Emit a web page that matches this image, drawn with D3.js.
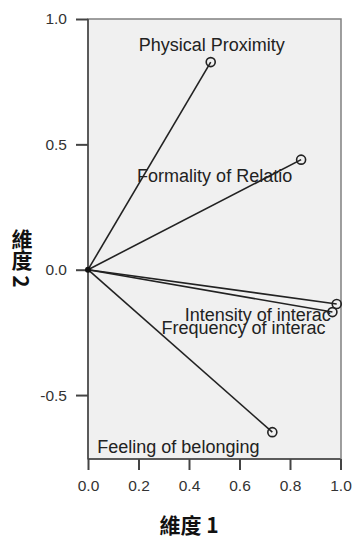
<!DOCTYPE html>
<html>
<head>
<meta charset="utf-8">
<script src="https://cdn.jsdelivr.net/npm/d3@7"></script>
<style>
  body { margin: 0; background: #fff; }
  svg { display: block; }
</style>
</head>
<body>
<div id="chart"></div>
<script>
// Component loadings (dimension 1, dimension 2)
var variables = ["Physical Proximity", "Formality of Relatio", "Intensity of interac", "Frequency of interac", "Feeling of belonging"];
var dim1 = [0.486, 0.844, 0.985, 0.968, 0.730];
var dim2 = [0.828, 0.439, -0.137, -0.169, -0.648];

// Tick labels
var xTicks = [0.0, 0.2, 0.4, 0.6, 0.8, 1.0];
var yTicks = [-0.5, 0.0, 0.5, 1.0];

// Where each label sits relative to its point (pixels, start of text / baseline)
var labelOffsets = [[-72, -11], [-164, 22], [-152, 17], [-171, 22], [-175, 21]];

var width = 352, height = 540;
var plot = { left: 88, right: 340.5, top: 19, bottom: 459 };

var svg = d3.select("#chart").append("svg")
  .attr("width", width)
  .attr("height", height);

var x = d3.scaleLinear().domain([0, 1]).range([plot.left, plot.right]);
var y = d3.scaleLinear().domain([-0.755, 1.0]).range([plot.bottom, plot.top]);

// Plot background
svg.append("rect")
  .attr("x", plot.left)
  .attr("y", plot.top)
  .attr("width", plot.right + 0.5 - plot.left)
  .attr("height", plot.bottom - plot.top)
  .attr("fill", "#f0f0f0")
  .attr("stroke", "#808080")
  .attr("stroke-width", 1.5);

// Axes (plain hyphen for negatives, like the original)
var tickFont = "'Liberation Sans', Arial, sans-serif";
var fmt = d => d.toFixed(1);

var xAxis = svg.append("g")
  .attr("transform", `translate(0, ${plot.bottom})`)
  .call(d3.axisBottom(x).tickValues(xTicks).tickFormat(fmt).tickSize(11).tickPadding(10));

var yAxis = svg.append("g")
  .attr("transform", `translate(${plot.left}, 0)`)
  .call(d3.axisLeft(y).tickValues(yTicks).tickFormat(fmt).tickSize(12).tickPadding(9));

[xAxis, yAxis].forEach(function (ax) {
  ax.select(".domain").attr("stroke", "#444").attr("stroke-width", 1.5);
  ax.selectAll(".tick line").attr("stroke", "#444").attr("stroke-width", 2);
  ax.selectAll(".tick text")
    .attr("fill", "#333")
    .style("font-family", tickFont)
    .style("font-size", "15.5px");
});
yAxis.select(".domain").attr("d", `M0,${plot.top}V${plot.bottom}`);
xAxis.select(".domain").attr("d", `M${plot.left},0H${plot.right}`);

// Loading vectors from the origin
var pts = variables.map(function (v, i) { return { name: v, d1: dim1[i], d2: dim2[i], off: labelOffsets[i] }; });

svg.append("g").selectAll("line")
  .data(pts)
  .join("line")
  .attr("x1", x(0)).attr("y1", y(0))
  .attr("x2", d => x(d.d1)).attr("y2", d => y(d.d2))
  .attr("stroke", "#222")
  .attr("stroke-width", 1.6);

svg.append("circle")
  .attr("cx", x(0)).attr("cy", y(0))
  .attr("r", 3)
  .attr("fill", "#111");

svg.append("g").selectAll("circle")
  .data(pts)
  .join("circle")
  .attr("cx", d => x(d.d1)).attr("cy", d => y(d.d2))
  .attr("r", 4.5)
  .attr("fill", "none")
  .attr("stroke", "#222")
  .attr("stroke-width", 1.6);

svg.append("g").selectAll("text")
  .data(pts)
  .join("text")
  .attr("x", d => x(d.d1) + d.off[0])
  .attr("y", d => y(d.d2) + d.off[1])
  .attr("fill", "#222")
  .style("font-family", tickFont)
  .style("font-size", "18px")
  .text(d => d.name);

// Axis titles
var titleFont = "'Noto Sans CJK TC', 'Noto Sans CJK SC', sans-serif";

svg.append("text")
  .attr("x", 189)
  .attr("y", 533)
  .attr("text-anchor", "middle")
  .attr("fill", "#111")
  .style("font-family", titleFont)
  .style("font-weight", "bold")
  .style("font-size", "21px")
  .text("維度 1");

svg.append("text")
  .attr("x", 22)
  .attr("y", 258)
  .attr("text-anchor", "middle")
  .attr("fill", "#111")
  .style("writing-mode", "vertical-rl")
  .style("text-orientation", "mixed")
  .style("font-family", titleFont)
  .style("font-weight", "bold")
  .style("font-size", "21px")
  .text("維度 2");
</script>
</body>
</html>
